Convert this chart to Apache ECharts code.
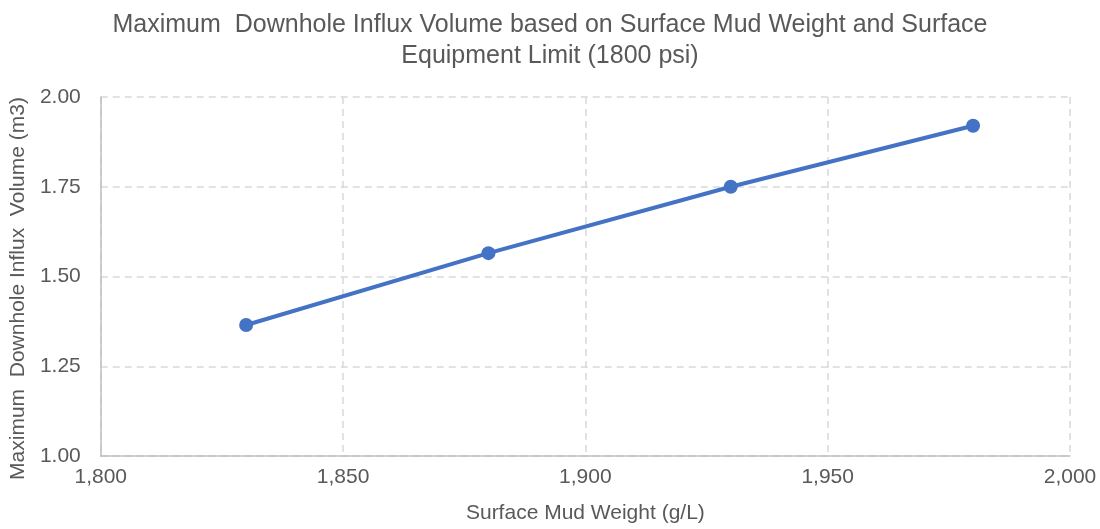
<!DOCTYPE html>
<html>
<head>
<meta charset="utf-8">
<script src="https://cdn.jsdelivr.net/npm/echarts@6/dist/echarts.min.js"></script>
<style>
  html, body { margin: 0; padding: 0; background: #fff; }
  #chart { width: 1100px; height: 529px; }
</style>
</head>
<body>
<div id="chart"></div>
<script>
// Surface mud weight (g/L) and the resulting maximum downhole influx volume (m3)
const mudWeight = [1830, 1880, 1930, 1980];
const influxVolume = [1.365, 1.565, 1.75, 1.92];
const xTicks = { min: 1800, max: 2000, interval: 50 };
const yTicks = { min: 1.0, max: 2.0, interval: 0.25 };

const titleText = 'Maximum  Downhole Influx Volume based on Surface Mud Weight and Surface\nEquipment Limit (1800 psi)';
const xName = 'Surface Mud Weight (g/L)';
const yName = 'Maximum  Downhole Influx  Volume (m3)';

const textColor = '#595959';
const fontFamily = '"Liberation Sans", Arial, sans-serif';

const chart = echarts.init(document.getElementById('chart'));

const gridStyle = { color: '#D9D9D9', width: 1.5, type: [7, 5] };

chart.setOption({
  backgroundColor: '#ffffff',
  animation: false,
  textStyle: { fontFamily: fontFamily, color: textColor },
  title: {
    text: titleText,
    left: 'center',
    top: 5,
    textStyle: {
      fontFamily: fontFamily,
      fontSize: 25,
      fontWeight: 'normal',
      color: textColor,
      lineHeight: 31
    }
  },
  grid: { left: 100, right: 30, top: 97, bottom: 71 },
  xAxis: {
    type: 'value',
    min: xTicks.min,
    max: xTicks.max,
    interval: xTicks.interval,
    name: xName,
    nameLocation: 'middle',
    nameGap: 47,
    nameTextStyle: { fontSize: 21, color: textColor, fontFamily: fontFamily },
    axisLine: { show: true, lineStyle: { color: '#BFBFBF', width: 1.5 } },
    axisTick: { show: false },
    axisLabel: {
      fontSize: 21,
      color: textColor,
      margin: 11,
      formatter: v => v.toLocaleString('en-US')
    },
    splitLine: { show: true, lineStyle: gridStyle }
  },
  yAxis: {
    type: 'value',
    min: yTicks.min,
    max: yTicks.max,
    interval: yTicks.interval,
    name: yName,
    nameLocation: 'middle',
    nameGap: 69,
    nameTextStyle: {
      fontSize: 21,
      color: textColor,
      fontFamily: fontFamily,
      padding: [0, 24, 0, 0]
    },
    axisLine: { show: true, lineStyle: { color: '#BFBFBF', width: 1.5 } },
    axisTick: { show: false },
    axisLabel: {
      fontSize: 21,
      color: textColor,
      margin: 20,
      formatter: v => v.toFixed(2)
    },
    splitLine: { show: true, lineStyle: gridStyle }
  },
  series: [{
    type: 'line',
    data: mudWeight.map((x, i) => [x, influxVolume[i]]),
    symbol: 'circle',
    symbolSize: 14,
    lineStyle: { color: '#4472C4', width: 4 },
    itemStyle: { color: '#4472C4' }
  }]
});
</script>
</body>
</html>
